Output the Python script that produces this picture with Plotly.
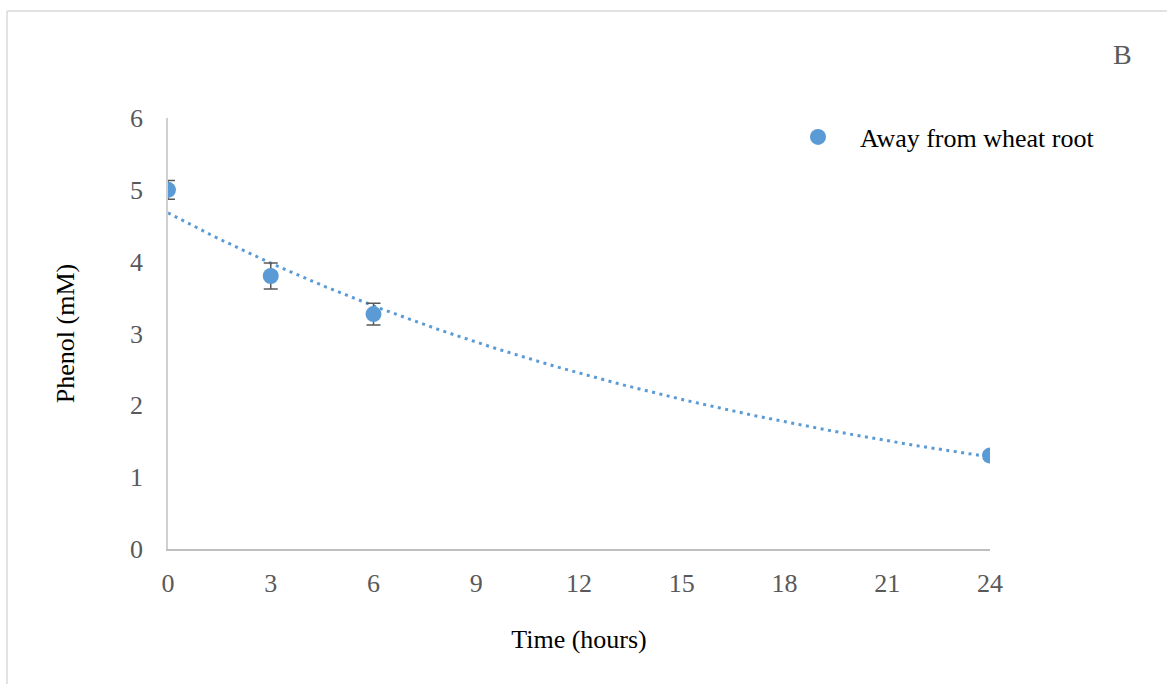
import numpy as np
import plotly.graph_objects as go

# Phenol concentration measured away from the wheat root
time_h = [0, 3, 6, 24]
phenol_mM = [5.0, 3.8, 3.27, 1.3]
phenol_err = [0.13, 0.18, 0.15, 0.05]

x_ticks = [0, 3, 6, 9, 12, 15, 18, 21, 24]
y_ticks = [0, 1, 2, 3, 4, 5, 6]

# Exponential trendline y = a*exp(b*x), fitted on log values
b, ln_a = np.polyfit(time_h, np.log(phenol_mM), 1)
fit_x = np.linspace(0, 24, 200)
fit_y = np.exp(ln_a) * np.exp(b * fit_x)

BLUE = "#5B9BD5"
GREY = "#595959"
FONT = "Liberation Serif, Times New Roman, serif"

fig = go.Figure()
fig.add_trace(go.Scatter(
    x=fit_x, y=fit_y, mode="lines",
    line=dict(color=BLUE, width=3, dash="3px,4.5px"),
    showlegend=False, hoverinfo="skip",
))
fig.add_trace(go.Scatter(
    x=time_h, y=phenol_mM, mode="markers",
    name="Away from wheat root",
    marker=dict(color=BLUE, size=16),
    error_y=dict(type="data", array=phenol_err, visible=True,
                 color=GREY, thickness=1.5, width=7),
))

# plot area: x 168..990, y 118..549 (pixels)
L, R, T, B = 168, 177, 118, 135
W, H = 1167 - L - R, 684 - T - B

def px(xp):
    return (xp - L) / W

def py(yp):
    return 1 - (yp - T) / H

fig.update_layout(
    width=1167, height=684,
    margin=dict(l=L, r=R, t=T, b=B),
    paper_bgcolor="white", plot_bgcolor="white",
    font=dict(family=FONT, size=26, color=GREY),
    showlegend=True,
    legend=dict(x=px(776), y=py(137), xanchor="left", yanchor="middle",
                itemwidth=74,
                font=dict(family=FONT, size=26, color="black"),
                bgcolor="rgba(0,0,0,0)"),
    xaxis=dict(range=[0, 24], tickvals=x_ticks, showgrid=False, zeroline=False,
               showline=True, linecolor="#bfbfbf", linewidth=1.5,
               ticks="", ticklabelstandoff=10,
               tickfont=dict(family=FONT, size=26, color=GREY),
               title=dict(text="Time (hours)", standoff=33,
                          font=dict(family=FONT, size=26, color="black"))),
    yaxis=dict(range=[0, 6], tickvals=y_ticks, showgrid=False, zeroline=False,
               showline=True, linecolor="#d0d0d0", linewidth=1.5,
               ticks="", ticklabelstandoff=18,
               tickfont=dict(family=FONT, size=26, color=GREY),
               title=dict(text="Phenol (mM)", standoff=48,
                          font=dict(family=FONT, size=26, color="black"))),
    shapes=[
        # outer chart frame (top and left edges)
        dict(type="line", xref="paper", yref="paper",
             x0=px(7), x1=px(1170), y0=py(11), y1=py(11),
             line=dict(color="#d9d9d9", width=1.5)),
        dict(type="line", xref="paper", yref="paper",
             x0=px(7), x1=px(7), y0=py(11), y1=py(690),
             line=dict(color="#d9d9d9", width=1.5)),
    ],
    annotations=[
        dict(text="B", xref="paper", yref="paper", x=px(1122), y=py(54),
             xanchor="center", yanchor="middle", showarrow=False,
             font=dict(family=FONT, size=28, color=GREY)),
    ],
)

fig.write_html("out.html")
